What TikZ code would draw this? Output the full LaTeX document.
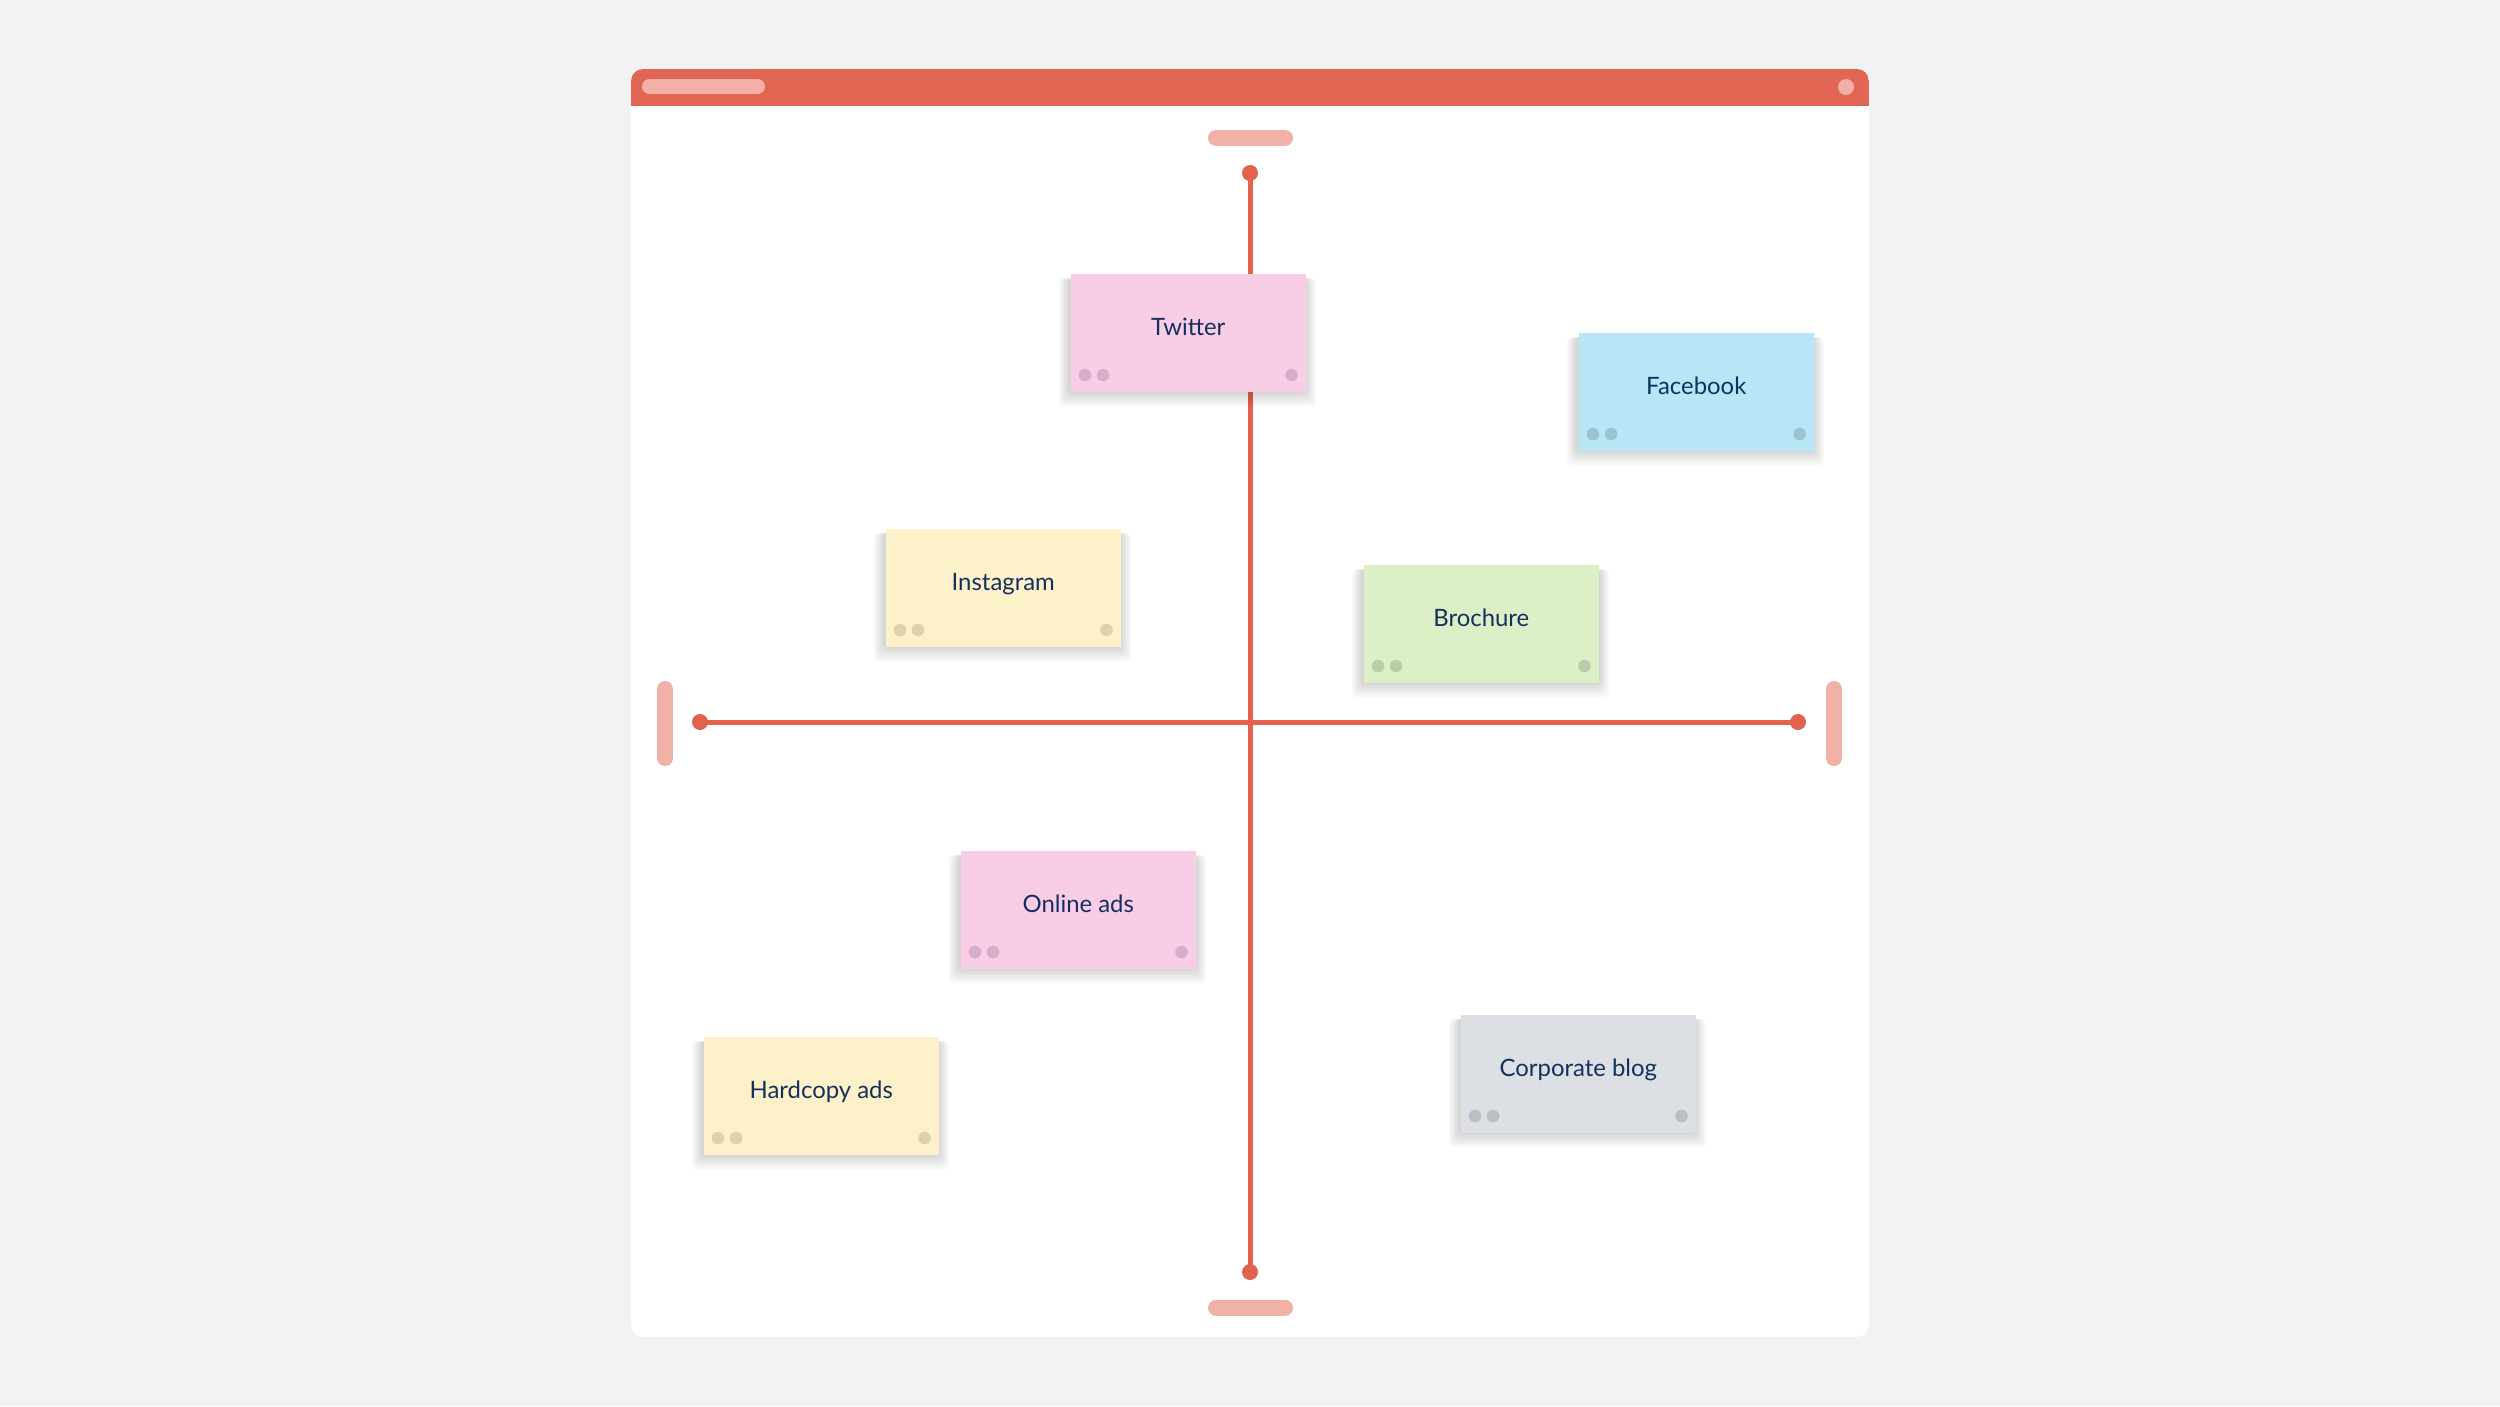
\documentclass[tikz,border=0pt]{standalone}
\usepackage{fontspec}
\setmainfont{Lato}
\definecolor{bg}{HTML}{F2F2F2}
\definecolor{header}{HTML}{E26654}
\definecolor{pill}{HTML}{F1B1A7}
\definecolor{axis}{HTML}{E2614F}
\definecolor{ink}{HTML}{13305E}
\definecolor{pinkF}{HTML}{F9CDE6}
\definecolor{pinkD}{HTML}{D6ADCA}
\definecolor{blueF}{HTML}{B8E6F6}
\definecolor{blueD}{HTML}{9DC2D2}
\definecolor{yellF}{HTML}{FDF1C9}
\definecolor{yellD}{HTML}{DDD2AB}
\definecolor{greenF}{HTML}{DCEFC6}
\definecolor{greenD}{HTML}{BACDA9}
\definecolor{grayF}{HTML}{DCDFE4}
\definecolor{grayD}{HTML}{BBBEC4}
\tikzset{
  note/.style={rectangle, minimum width=2.35cm, minimum height=1.18cm, inner sep=0pt},
  notetext/.style={font=\fontsize{6.8pt}{8pt}\selectfont, text=ink, inner sep=0pt},
  pillline/.style={draw=pill, line width=0.16cm, line cap=round},
  axisline/.style={draw=axis, line width=0.05cm},
  axisdot/.style={fill=axis},
  shadowlayer/.style={fill=black, fill opacity=0.024, rounded corners=0.05cm}
}
\newcommand\sticky[6]{%
  \foreach \k in {1,...,7}{
    \fill[shadowlayer] ({#2-\k*1.6},{#3+5}) rectangle ({#2+235+\k*1.6},{#3+118+\k*2.2});
  }
  \node[note, fill=#4, anchor=north west] (#1) at (#2,#3) {};
  \node[notetext, anchor=base] (#1text) at ([yshift=-0.625cm]#1.north) {#6};
  \fill[#5] ([xshift=0.15cm,yshift=-1.02cm]#1.north west) circle (0.063cm);
  \fill[#5] ([xshift=0.33cm,yshift=-1.02cm]#1.north west) circle (0.063cm);
  \fill[#5] ([xshift=-0.15cm,yshift=-1.02cm]#1.north east) circle (0.063cm);
}
\begin{document}
\begin{tikzpicture}[x=0.01cm,y=-0.01cm]
\fill[bg] (0,0) rectangle (2500,1406);
\useasboundingbox (0,0) rectangle (2500,1406);
% window
\begin{scope}
  \clip[rounded corners=0.12cm] (631,69) rectangle (1869,1337);
  \fill[white] (631,69) rectangle (1869,1337);
  \fill[header] (631,69) rectangle (1869,106);
\end{scope}
\draw[line width=0.15cm, draw=pill, line cap=round] (649.5,86.5) -- (757.5,86.5);
\fill[pill] (1846,87) circle (0.08cm);
% axis end pills
\draw[pillline] (1216,138) -- (1285,138);
\draw[pillline] (1216,1307.5) -- (1285,1307.5);
\draw[pillline] (665,689) -- (665,758);
\draw[pillline] (1834,689) -- (1834,758);
% axes
\coordinate (top) at (1250,173);
\coordinate (bot) at (1250,1272);
\coordinate (lft) at (700,722);
\coordinate (rgt) at (1798,722);
\draw[axisline] (top) -- (bot);
\draw[axisline] (lft) -- (rgt);
\fill[axisdot] (top) circle (0.08cm);
\fill[axisdot] (bot) circle (0.08cm);
\fill[axisdot] (lft) circle (0.08cm);
\fill[axisdot] (rgt) circle (0.08cm);
% notes
\sticky{tw}{1070}{273}{pinkF}{pinkD}{Twitter}
\sticky{fb}{1578}{332}{blueF}{blueD}{Facebook}
\sticky{ig}{885}{528}{yellF}{yellD}{Instagram}
\sticky{br}{1363}{564}{greenF}{greenD}{Brochure}
\sticky{oa}{960}{850}{pinkF}{pinkD}{Online ads}
\sticky{ha}{703}{1036}{yellF}{yellD}{Hardcopy ads}
\sticky{cb}{1460}{1014}{grayF}{grayD}{Corporate blog}
\end{tikzpicture}
\end{document}
